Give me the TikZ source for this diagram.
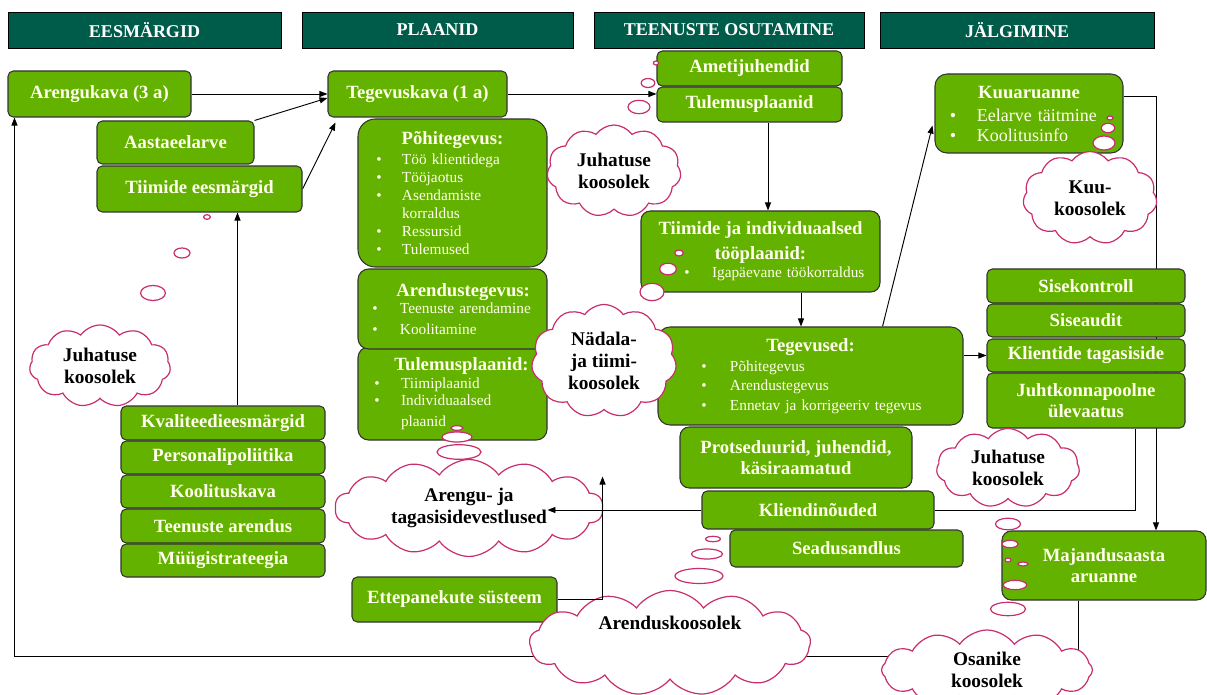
\documentclass[tikz,border=0pt]{standalone}
\usepackage{fontspec}
\setmainfont{Liberation Serif}
\usetikzlibrary{shapes.symbols,arrows.meta,calc,backgrounds}

\definecolor{boxgreen}{RGB}{100,178,0}
\definecolor{headteal}{RGB}{0,92,74}
\definecolor{cloudpink}{RGB}{200,45,110}
\definecolor{boxtext}{RGB}{255,255,236}

\tikzset{
  gbox/.style={draw=black!80, line width=0.8pt, fill=boxgreen, rounded corners=4pt,
    text=boxtext, font=\bfseries\fontsize{14}{16}\selectfont, align=center, inner sep=0pt},
  bulbox/.style={gbox, font=\fontsize{11.5}{13.5}\selectfont, align=left},
  headbox/.style={draw=black, line width=0.6pt, fill=headteal, sharp corners,
    text=white, font=\bfseries\fontsize{13.5}{15}\selectfont, inner sep=0pt},
  thought/.style={cloud, cloud puffs=11, cloud puff arc=110, cloud ignores aspect,
    draw=cloudpink, line width=0.9pt, fill=white, text=black,
    font=\bfseries\fontsize{14.5}{16.5}\selectfont, align=center, inner sep=0pt},
  bubble/.style={draw=cloudpink, line width=0.9pt, fill=white},
  arr/.style={draw=black, line width=0.7pt, -{Triangle[length=6pt,width=4.5pt]}},
  link/.style={draw=black, line width=0.7pt},
}

% box from its corner coordinates (x1,y1)-(x2,y2), in pixel units
\newcommand\gplace[7][]{%
  \node[#1,minimum width={(#5-#3)*0.75pt},minimum height={(#6-#4)*0.75pt}]
    (#2) at ({(#3+#5)/2},{(#4+#6)/2}) {#7};}
% thought cloud: centre, width, height
\newcommand\cloudat[7][]{%
  \node[thought,#1,minimum width={#5*0.75pt},minimum height={#6*0.75pt}]
    (#2) at (#3,#4) {#7};}
% small thought bubble
\newcommand\bub[4]{\draw[bubble] (#1,#2) ellipse [x radius={#3*0.75pt}, y radius={#4*0.75pt}];}
% bullet with indentation: total width, bullet offset
\newcommand\bul[2]{\makebox[#1][l]{\hspace*{#2}\textbullet}}
\newcommand\hf{\bfseries\fontsize{14}{16}\selectfont}

\begin{document}
\begin{tikzpicture}[x=0.75pt,y=-0.75pt]
\useasboundingbox (0,0) rectangle (1207,695);
\clip (0,0) rectangle (1207,695);

% column headers
\gplace[headbox]{hEes}{8}{12}{281}{48}{EESMÄRGID}
\gplace[headbox]{hPlaan}{302}{12}{573}{48}{PLAANID}
\gplace[headbox]{hTeen}{594}{12}{864}{48}{TEENUSTE OSUTAMINE}
\gplace[headbox]{hJalg}{880}{12}{1154}{48}{JÄLGIMINE}

% goals
\gplace[gbox]{aren}{8}{71}{191}{117}{Arengukava (3 a)}
\gplace[gbox]{aasta}{97}{121}{254}{164}{Aastaeelarve}
\gplace[gbox]{tiim}{97}{166}{302}{212}{Tiimide eesmärgid}
\gplace[gbox]{kval}{121}{406}{325}{440}{Kvaliteedieesmärgid}
\gplace[gbox]{pers}{121}{441}{325}{474}{Personalipoliitika}
\gplace[gbox]{kool}{121}{475}{325}{508}{Koolituskava}
\gplace[gbox]{teenar}{121}{509}{325}{543}{Teenuste arendus}
\gplace[gbox]{myyk}{121}{544}{325}{577}{Müügistrateegia}

% plans
\gplace[gbox]{tegk}{328}{71}{507}{117}{Tegevuskava (1 a)}
\gplace[bulbox,rounded corners=13pt,text width=141.75pt]{pohi}{358}{119}{547}{267}{%
  \makebox[\linewidth]{\hf Põhitegevus:}\\[1.5pt]
  \bul{33pt}{13.75pt}Töö klientidega\\
  \bul{33pt}{13.75pt}Tööjaotus\\
  \bul{33pt}{13.75pt}Asendamiste\\
  \hspace*{33pt}korraldus\\
  \bul{33pt}{13.75pt}Ressursid\\
  \bul{33pt}{13.75pt}Tulemused}
\gplace[bulbox,rounded corners=8pt,text width=141.75pt]{tulpl}{358}{347}{547}{440}{%
  \makebox[\linewidth]{\hspace*{13.5pt}\hf Tulemusplaanid:}\\
  \bul{32.25pt}{12.25pt}Tiimiplaanid\\[-0.75pt]
  \bul{32.25pt}{12.25pt}Individuaalsed\\[2.25pt]
  \hspace*{32.25pt}plaanid}
\gplace[bulbox,rounded corners=8pt,text width=141.75pt]{arend}{358}{269}{547}{349}{%
  \makebox[\linewidth]{\hspace*{16pt}\hf Arendustegevus:}\\[-0.75pt]
  \bul{31.5pt}{10.75pt}Teenuste arendamine\\[2.25pt]
  \bul{31.5pt}{10.75pt}Koolitamine}
\gplace[gbox]{ette}{352}{577}{557}{622}{Ettepanekute süsteem}

% service delivery
\gplace[gbox]{ameti}{657}{51}{842}{86}{Ametijuhendid}
\gplace[gbox]{tulp}{657}{87}{842}{122}{Tulemusplaanid}
\gplace[bulbox,rounded corners=7pt,text width=179.25pt]{tiij}{641}{211}{880}{292}{%
  \makebox[\linewidth]{\hf Tiimide ja individuaalsed}\\[5.25pt]
  \makebox[\linewidth]{\hf tööplaanid:}\\
  \bul{53.25pt}{32.5pt}Igapäevane töökorraldus}
\gplace[bulbox,rounded corners=9pt,text width=228.75pt]{teg}{658}{327}{963}{425}{%
  \makebox[\linewidth]{\hf Tegevused:}\\[1.5pt]
  \bul{54pt}{32.5pt}Põhitegevus\\[1.1pt]
  \bul{54pt}{32.5pt}Arendustegevus\\[1.1pt]
  \bul{54pt}{32.5pt}Ennetav ja korrigeeriv tegevus}
\gplace[gbox,rounded corners=7pt]{prot}{680}{427}{912}{488}{Protseduurid, juhendid,\\käsiraamatud}
\gplace[gbox]{kn}{702}{491}{934}{529}{Kliendinõuded}
\gplace[gbox]{seadus}{730}{530}{963}{567}{Seadusandlus}

% monitoring
\gplace[bulbox,rounded corners=9pt,text width=141pt,font=\fontsize{13.5}{15}\selectfont]{kuu}{935}{74}{1123}{153}{%
  \makebox[\linewidth]{\hf Kuuaruanne}\\[2.25pt]
  \bul{31.5pt}{11.2pt}Eelarve täitmine\\
  \bul{31.5pt}{11.2pt}Koolitusinfo}
\gplace[gbox]{sise}{987}{269}{1185}{303}{Sisekontroll}
\gplace[gbox]{siseau}{987}{304}{1185}{337}{Siseaudit}
\gplace[gbox]{klt}{987}{339}{1185}{372}{Klientide tagasiside}
\gplace[gbox]{juht}{987}{373}{1185}{428}{Juhtkonnapoolne\\ülevaatus}
\gplace[gbox,rounded corners=7pt]{maj}{1002}{531}{1206}{600}{Majandusaasta\\aruanne}

% connectors behind the boxes
\begin{scope}[on background layer]
  \draw[arr] (aren.east) -- (tegk.west);
  \draw[arr] (aasta.north east) -- ($(tegk.west)+(0,4)$);
  \draw[arr] (tiim.east) -- ($(tegk.south west)+(8,5)$);
  \draw[arr] ($(kval.north)+(14.5,0)$) coordinate (kq) -- (kq |- tiim.south);
  \draw[arr] (tegk.east) -- (tegk.east -| tulp.west);
  \draw[arr] ($(tulp.south)+(18.5,0)$) coordinate (tq) -- (tq |- tiij.north);
  \draw[arr] ($(teg.north)+(-9.5,0)$) coordinate (gq);
  \draw[arr] (gq |- tiij.south) -- (gq);
  \draw[arr] ($(teg.north east)+(-81,0)$) -- ($(kuu.south west)+(-2,-28)$);
  \draw[arr] (klt.west -| teg.east) -- (klt.west);
  \draw[arr] ($(kuu.north east)+(0,23)$) -| ($(maj.north)+(52,0)$);
  \draw[link] ($(juht.south)+(49,0)$) |- (kn.east);
  \draw[arr] ($(maj.south)+(-26,0)$) |- ($(aren.south west)+(7,539)$) -- ($(aren.south west)+(7,0)$);
\end{scope}

% meetings
\cloudat{cJt}{614}{171}{134}{92}{Juhatuse\\koosolek}
\bub{656}{63}{2.7}{2}
\bub{648}{83}{6.8}{4.5}
\bub{639}{107}{11}{6.7}

\cloudat{cKuu}{1090}{198}{134}{93}{Kuu-\\koosolek}
\bub{1110}{118}{3}{2}
\bub{1108}{128}{6.7}{4.7}
\bub{1104}{143}{11}{7}

\cloudat{cNad}{604}{361}{145}{113}{Nädala-\\ja tiimi-\\koosolek}
\bub{679}{253}{4.3}{3}
\bub{668}{269}{8.3}{5.8}
\bub{652}{292}{12}{8.7}

\cloudat{cJl}{100}{366}{141}{82}{Juhatuse\\koosolek}
\bub{207}{217}{3.4}{2.3}
\bub{182}{253}{8}{5}
\bub{153}{293}{12.4}{7.5}

\cloudat[cloud puffs=14]{cAreng}{469}{508}{268}{97}{Arengu- ja\\tagasisidevestlused}
\bub{457}{428}{6}{2.3}
\bub{457}{437}{15}{5}
\bub{459}{452}{22}{7.3}

\cloudat[cloud puffs=13]{cArendus}{670}{643}{281}{105}{\raisebox{10.5pt}[0pt][0pt]{Arenduskoosolek}}
\bub{713}{539}{7.4}{2.7}
\bub{707}{554}{15.5}{5}
\bub{699}{576}{24}{7.5}

\cloudat{cJr}{1008}{468}{143}{79}{Juhatuse\\koosolek}
\bub{1008}{524}{12.5}{5.8}
\bub{1010}{544}{8}{3.7}
\bub{1008}{560}{3}{2}
\bub{1023}{564}{5}{2}
\bub{1015}{585}{11.7}{4.7}
\bub{1008}{609}{17.5}{6.7}

\cloudat[cloud puffs=12]{cOs}{987}{670}{211}{80}{Osanike\\koosolek}

% connectors drawn over the clouds
\draw[arr] (kn.west) -- ($(kn.west)+(-154,0)$);
\draw[arr] (ette.east) -| ++(45,-123);
\end{tikzpicture}
\end{document}
